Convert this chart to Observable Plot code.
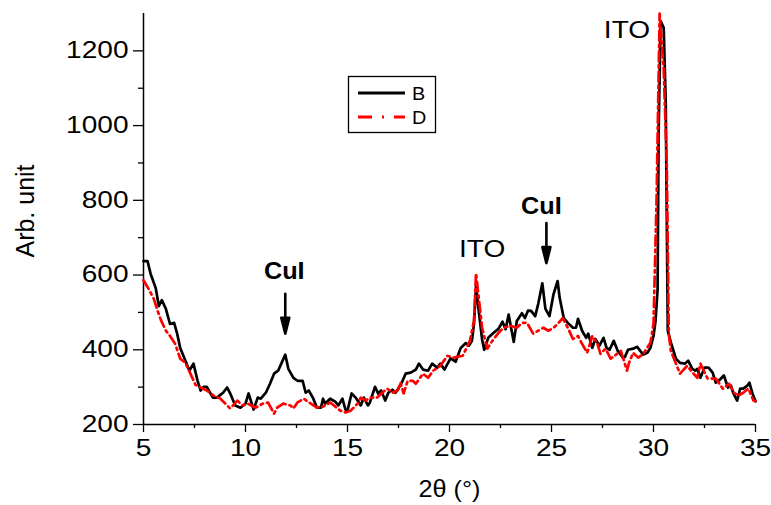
<!DOCTYPE html>
<html><head><meta charset="utf-8">
<script src="https://cdn.jsdelivr.net/npm/d3@7"></script>
<script src="https://cdn.jsdelivr.net/npm/@observablehq/plot@0.6"></script>
<style>
body{margin:0;background:#fff;}
#wrap{position:relative;width:771px;height:505px;font-family:"Liberation Sans",Arial,sans-serif;}
#wrap svg{position:absolute;left:0;top:0;}
</style></head><body><div id="wrap"></div>
<script>
// ---- data ----
const thetaB = [5.0,5.2,5.35,5.6,5.75,5.9,6.1,6.3,6.5,6.65,6.8,7.05,7.25,7.45,7.65,7.8,7.95,8.1,8.4,8.6,8.9,9.1,9.25,9.5,9.75,10.0,10.15,10.4,10.6,10.75,11.0,11.2,11.4,11.6,11.95,12.1,12.35,12.55,12.8,12.95,13.1,13.3,13.5,13.7,13.8,13.9,14.15,14.4,14.55,14.75,14.9,15.0,15.2,15.4,15.65,15.8,16.0,16.1,16.35,16.5,16.65,16.85,17.0,17.2,17.35,17.5,17.7,17.85,18.1,18.35,18.5,18.7,18.95,19.15,19.4,19.55,19.75,20.05,20.3,20.55,20.8,20.95,21.1,21.2,21.3,21.45,21.6,21.7,21.9,22.15,22.4,22.6,22.75,22.9,23.15,23.3,23.55,23.7,23.85,24.0,24.2,24.35,24.55,24.7,24.9,25.1,25.3,25.4,25.6,25.8,26.05,26.2,26.3,26.5,26.7,26.8,27.0,27.15,27.35,27.55,27.7,27.85,28.05,28.25,28.5,28.6,28.75,29.0,29.2,29.35,29.5,29.7,29.85,30.0,30.1,30.2,30.25,30.35,30.5,30.6,30.7,30.85,31.1,31.3,31.55,31.7,31.9,32.05,32.15,32.3,32.5,32.7,32.9,33.05,33.2,33.45,33.65,33.8,33.9,34.1,34.25,34.4,34.6,34.7,34.85,35.0];
const intensityB = [637,637,603,565,517,533,509,469,472,443,405,371,344,363,317,291,301,301,272,272,285,299,283,251,245,256,283,240,272,269,285,309,336,344,387,349,325,317,317,285,291,272,245,245,269,256,269,261,251,269,240,237,283,272,251,272,251,259,301,283,291,264,285,293,285,296,317,336,339,347,363,347,344,363,352,363,347,377,368,405,418,411,424,470,570,496,427,400,432,445,456,475,455,494,421,477,498,485,505,504,490,523,578,510,490,549,584,539,485,472,459,459,483,451,432,443,405,429,411,432,405,400,424,397,379,381,400,403,408,397,387,392,405,437,477,560,976,1280,1262,1064,451,420,376,365,363,371,349,344,349,325,352,352,339,312,317,331,299,304,285,264,296,296,304,312,283,262];
const thetaD = [5.0,5.25,5.5,5.7,5.85,6.1,6.3,6.55,6.8,7.05,7.3,7.55,7.8,8.1,8.5,8.75,9.25,9.6,9.85,10.1,10.5,10.85,11.1,11.4,11.55,11.85,12.2,12.35,12.55,12.85,13.5,13.8,14.15,14.65,14.9,15.15,15.5,15.65,15.9,16.1,16.45,16.7,16.95,17.2,17.45,17.6,17.75,17.95,18.2,18.35,18.7,18.95,19.2,19.55,19.9,20.2,20.65,21.0,21.2,21.3,21.45,21.6,21.85,22.1,22.4,22.65,23.0,23.3,23.55,23.8,24.1,24.35,24.6,24.85,25.1,25.3,25.55,25.8,26.05,26.3,26.5,26.75,27.0,27.25,27.4,27.65,27.9,28.4,28.7,28.8,29.0,29.25,29.5,29.85,30.0,30.15,30.3,30.5,30.65,30.75,30.85,31.3,31.65,31.9,32.15,32.3,32.65,33.05,33.4,33.7,33.95,34.15,34.4,34.65,34.9,35.0];
const intensityD = [586,563,537,503,480,451,437,416,376,365,336,306,299,291,275,270,243,264,251,256,245,256,259,229,245,256,251,243,259,269,245,248,259,237,232,237,256,272,264,272,272,285,296,285,291,312,283,317,317,309,336,325,344,357,384,379,384,424,477,605,531,459,403,424,445,459,464,459,472,472,443,451,459,451,459,469,485,459,429,437,416,392,437,416,389,403,376,397,344,365,392,379,389,419,469,800,1300,1150,900,443,397,336,357,340,325,363,323,323,296,309,285,277,285,296,264,262];
const seriesNames = ["B","D"];
const seriesColors = ["#000000","#ff0000"];
const xMajorTicks = [5,10,15,20,25,30,35];
const xMinorTicks = [7.5,12.5,17.5,22.5,27.5,32.5];
const yMajorTicks = [200,400,600,800,1000,1200];
const yMinorTicks = [300,500,700,900,1100];
const peakLabels = ["CuI","ITO","CuI","ITO"];
const peakLabelTheta = [11.9,21.6,24.5,28.7];
const peakLabelValue = [608,667,784,1253];
const arrowTheta = [11.95,24.75];
const arrowTipValue = [443,632];
const xTitle = "2θ (°)";
const yTitle = "Arb. unit";

// ---- tables ----
const rowsB = thetaB.map((t,i)=>({theta:t, v:intensityB[i]}));
const rowsD = thetaD.map((t,i)=>({theta:t, v:intensityD[i]}));
const labels = peakLabels.map((s,i)=>({text:s, theta:peakLabelTheta[i], v:peakLabelValue[i], bold:s==="CuI"}));
const arrows = arrowTheta.map((t,i)=>({theta:t, v:arrowTipValue[i]}));

const arrowShape = {draw(ctx, l){
  const h = 16, w = 4;
  ctx.moveTo(0,0); ctx.lineTo(0,-l+h);
  ctx.moveTo(-w,-l+h); ctx.lineTo(0,-l); ctx.lineTo(w,-l+h); ctx.closePath();
}};

const chart = Plot.plot({
  width: 771, height: 505,
  marginLeft: 143, marginRight: 16, marginTop: 13, marginBottom: 81,
  style: {fontFamily: '"Liberation Sans", Arial, sans-serif', background: "transparent", overflow: "visible"},
  x: {domain: [5,35]},
  y: {domain: [200,1300]},
  marks: [
    Plot.axisX(xMajorTicks, {tickSize: 8, tickPadding: 7, fontSize: 23, label: null, tickFormat: d=>String(d), stroke: "black", strokeWidth: 1.3, color:"black"}),
    Plot.axisX(xMinorTicks, {tickSize: 4, text: null, label: null, stroke: "black", strokeWidth: 1.3}),
    Plot.axisY(yMajorTicks, {tickSize: 10, tickPadding: 5, fontSize: 23, label: null, tickFormat: d=>String(d), stroke: "black", strokeWidth: 1.3}),
    Plot.axisY(yMinorTicks, {tickSize: 5, text: null, label: null, stroke: "black", strokeWidth: 1.3}),
    Plot.ruleX([5], {stroke: "black", strokeWidth: 1.5}),
    Plot.ruleY([200], {stroke: "black", strokeWidth: 1.5}),
    Plot.line(rowsB, {x: "theta", y: "v", stroke: seriesColors[0], strokeWidth: 2.7, strokeLinejoin: "round"}),
    Plot.line(rowsD, {x: "theta", y: "v", stroke: seriesColors[1], strokeWidth: 2.7, strokeDasharray: "10,4,2.5,4"}),
    Plot.vector(arrows, {x: "theta", y: "v", length: 40, rotate: 180, anchor: "end", shape: arrowShape, stroke: "black", fill: "black", strokeWidth: 2.6}),
    Plot.text(labels.filter(d=>d.bold), {x: "theta", y: "v", text: "text", fontSize: 23, fontWeight: "bold", fill: "black"}),
    Plot.text(labels.filter(d=>!d.bold), {x: "theta", y: "v", text: "text", fontSize: 23, fill: "black"}),
    Plot.text([xTitle], {frameAnchor: "bottom", textAnchor: "middle", lineAnchor: "middle", dy: 65, fontSize: 24, fill: "black"}),
    Plot.text([yTitle], {frameAnchor: "left", textAnchor: "middle", lineAnchor: "middle", dx: -118, dy: -8, rotate: -90, fontSize: 25, fill: "black"})
  ]
});
const wrap = document.getElementById("wrap");
wrap.appendChild(chart);

// horizontal stretch of text to match the reference's wide glyphs
d3.select(chart).selectAll("text").each(function(){
  const t = this.textContent;
  if (t === yTitle) return;
  const f = t === xTitle ? 1.05 : (t === "CuI" ? 1.1 : 1.22);
  const len = this.getComputedTextLength();
  if (len > 0) { this.setAttribute("textLength", len*f); this.setAttribute("lengthAdjust","spacingAndGlyphs"); }
});

// legend
const lg = d3.select(wrap).append("svg").attr("width",771).attr("height",505).style("pointer-events","none");
lg.append("rect").attr("x",348.5).attr("y",76.5).attr("width",87).attr("height",56).attr("fill","white").attr("stroke","black").attr("stroke-width",1.3);
seriesNames.forEach((name,i)=>{
  const y = 93 + i*24;
  lg.append("line").attr("x1",358).attr("x2",405).attr("y1",y).attr("y2",y)
    .attr("stroke",seriesColors[i]).attr("stroke-width",3)
    .attr("stroke-dasharray", i===1 ? "14,10,2,10" : null);
  lg.append("text").attr("x",412).attr("y",y+7).attr("font-size",18).attr("fill","black")
    .attr("font-family",'"Liberation Sans", Arial, sans-serif').text(name)
    .each(function(){ this.setAttribute("textLength", this.getComputedTextLength()*1.1); this.setAttribute("lengthAdjust","spacingAndGlyphs"); });
});
</script></body></html>
